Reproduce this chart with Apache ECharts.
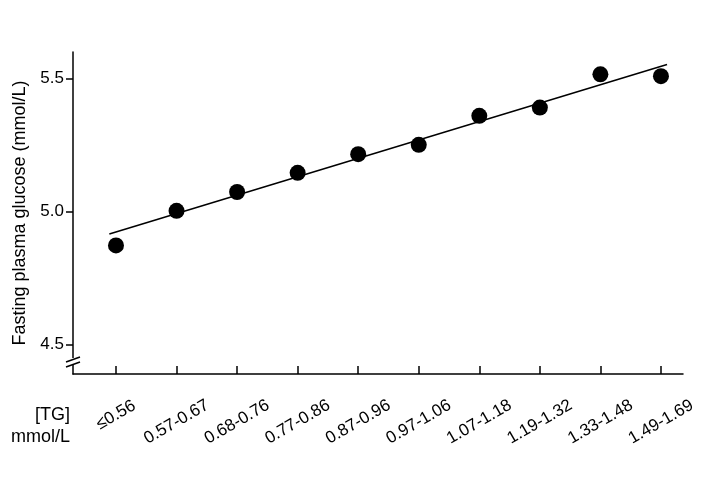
<!DOCTYPE html>
<html>
<head>
<meta charset="utf-8">
<script src="https://cdn.jsdelivr.net/npm/echarts@6/dist/echarts.min.js"></script>
<style>
  html, body { margin: 0; padding: 0; background: #fff; }
  #chart { width: 706px; height: 497px; }
</style>
</head>
<body>
<div id="chart"></div>
<script>
// TG groups (mmol/L)
var categories = ['≤0.56', '0.57-0.67', '0.68-0.76', '0.77-0.86', '0.87-0.96',
  '0.97-1.06', '1.07-1.18', '1.19-1.32', '1.33-1.48', '1.49-1.69'];
// mean fasting plasma glucose per group
var glucose = [4.873, 5.003, 5.074, 5.146, 5.216, 5.251, 5.360, 5.391, 5.516, 5.509];
// fitted line ends (x in category index units)
var trendX = [-0.11, 9.1];
var trendY = [4.916, 5.553];
var yTicks = [4.5, 5.0, 5.5];
var xTicks = categories.map(function (c, i) { return i; });

var FONT = 'Liberation Sans, Arial, sans-serif';

var chart = echarts.init(document.getElementById('chart'));

var option = {
  animation: false,
  grid: { left: 73, right: 23, top: 52, bottom: 123 },
  xAxis: {
    type: 'value',
    min: -0.71,
    max: 9.364,
    splitLine: { show: false },
    axisLine: { show: true, onZero: false, lineStyle: { color: '#000', width: 1.5 } },
    axisTick: { show: true, inside: true, length: 8, customValues: xTicks, lineStyle: { color: '#000', width: 1.5 } },
    axisLabel: {
      customValues: xTicks,
      rotate: 30,
      align: 'center',
      verticalAlign: 'middle',
      margin: 48,
      color: '#000',
      fontSize: 17,
      fontFamily: FONT,
      formatter: function (v) {
        var c = categories[Math.round(v)];
        return Math.round(v) === 0 ? '{a|' + c + '}' : c;
      },
      rich: {
        a: { fontSize: 17, fontFamily: FONT, color: '#000', padding: [0, 0, 12, 7] }
      }
    }
  },
  yAxis: {
    type: 'value',
    min: 4.39,
    max: 5.6,
    name: 'Fasting plasma glucose (mmol/L)',
    nameLocation: 'middle',
    nameGap: 43,
    nameTextStyle: { fontSize: 18, fontFamily: FONT, color: '#000' },
    splitLine: { show: false },
    axisLine: { show: true, onZero: false, lineStyle: { color: '#000', width: 1.5 } },
    axisTick: { show: true, length: 7, customValues: yTicks, lineStyle: { color: '#000', width: 1.5 } },
    axisLabel: {
      customValues: yTicks,
      margin: 9,
      color: '#000',
      fontSize: 17,
      fontFamily: FONT,
      formatter: function (v) { return v.toFixed(1); }
    }
  },
  series: [
    {
      type: 'line',
      data: trendX.map(function (x, i) { return [x, trendY[i]]; }),
      showSymbol: false,
      lineStyle: { color: '#000', width: 1.5 },
      z: 2
    },
    {
      type: 'scatter',
      data: glucose.map(function (g, i) { return [i, g]; }),
      symbol: 'circle',
      symbolSize: 16,
      itemStyle: { color: '#000', opacity: 1 },
      z: 3
    }
  ],
  graphic: [
    // axis break on the y axis
    { type: 'rect', shape: { x: 70, y: 358, width: 6, height: 7 }, style: { fill: '#fff' }, z: 100 },
    { type: 'line', shape: { x1: 66, y1: 362, x2: 80, y2: 357 }, style: { stroke: '#000', lineWidth: 1.5 }, z: 101 },
    { type: 'line', shape: { x1: 66, y1: 367, x2: 80, y2: 362 }, style: { stroke: '#000', lineWidth: 1.5 }, z: 101 },
    // x axis caption
    { type: 'text', style: { x: 70, y: 415, text: '[TG]', font: '18px ' + FONT, fill: '#000', align: 'right', verticalAlign: 'middle' } },
    { type: 'text', style: { x: 70, y: 437, text: 'mmol/L', font: '18px ' + FONT, fill: '#000', align: 'right', verticalAlign: 'middle' } }
  ]
};

chart.setOption(option);
</script>
</body>
</html>
